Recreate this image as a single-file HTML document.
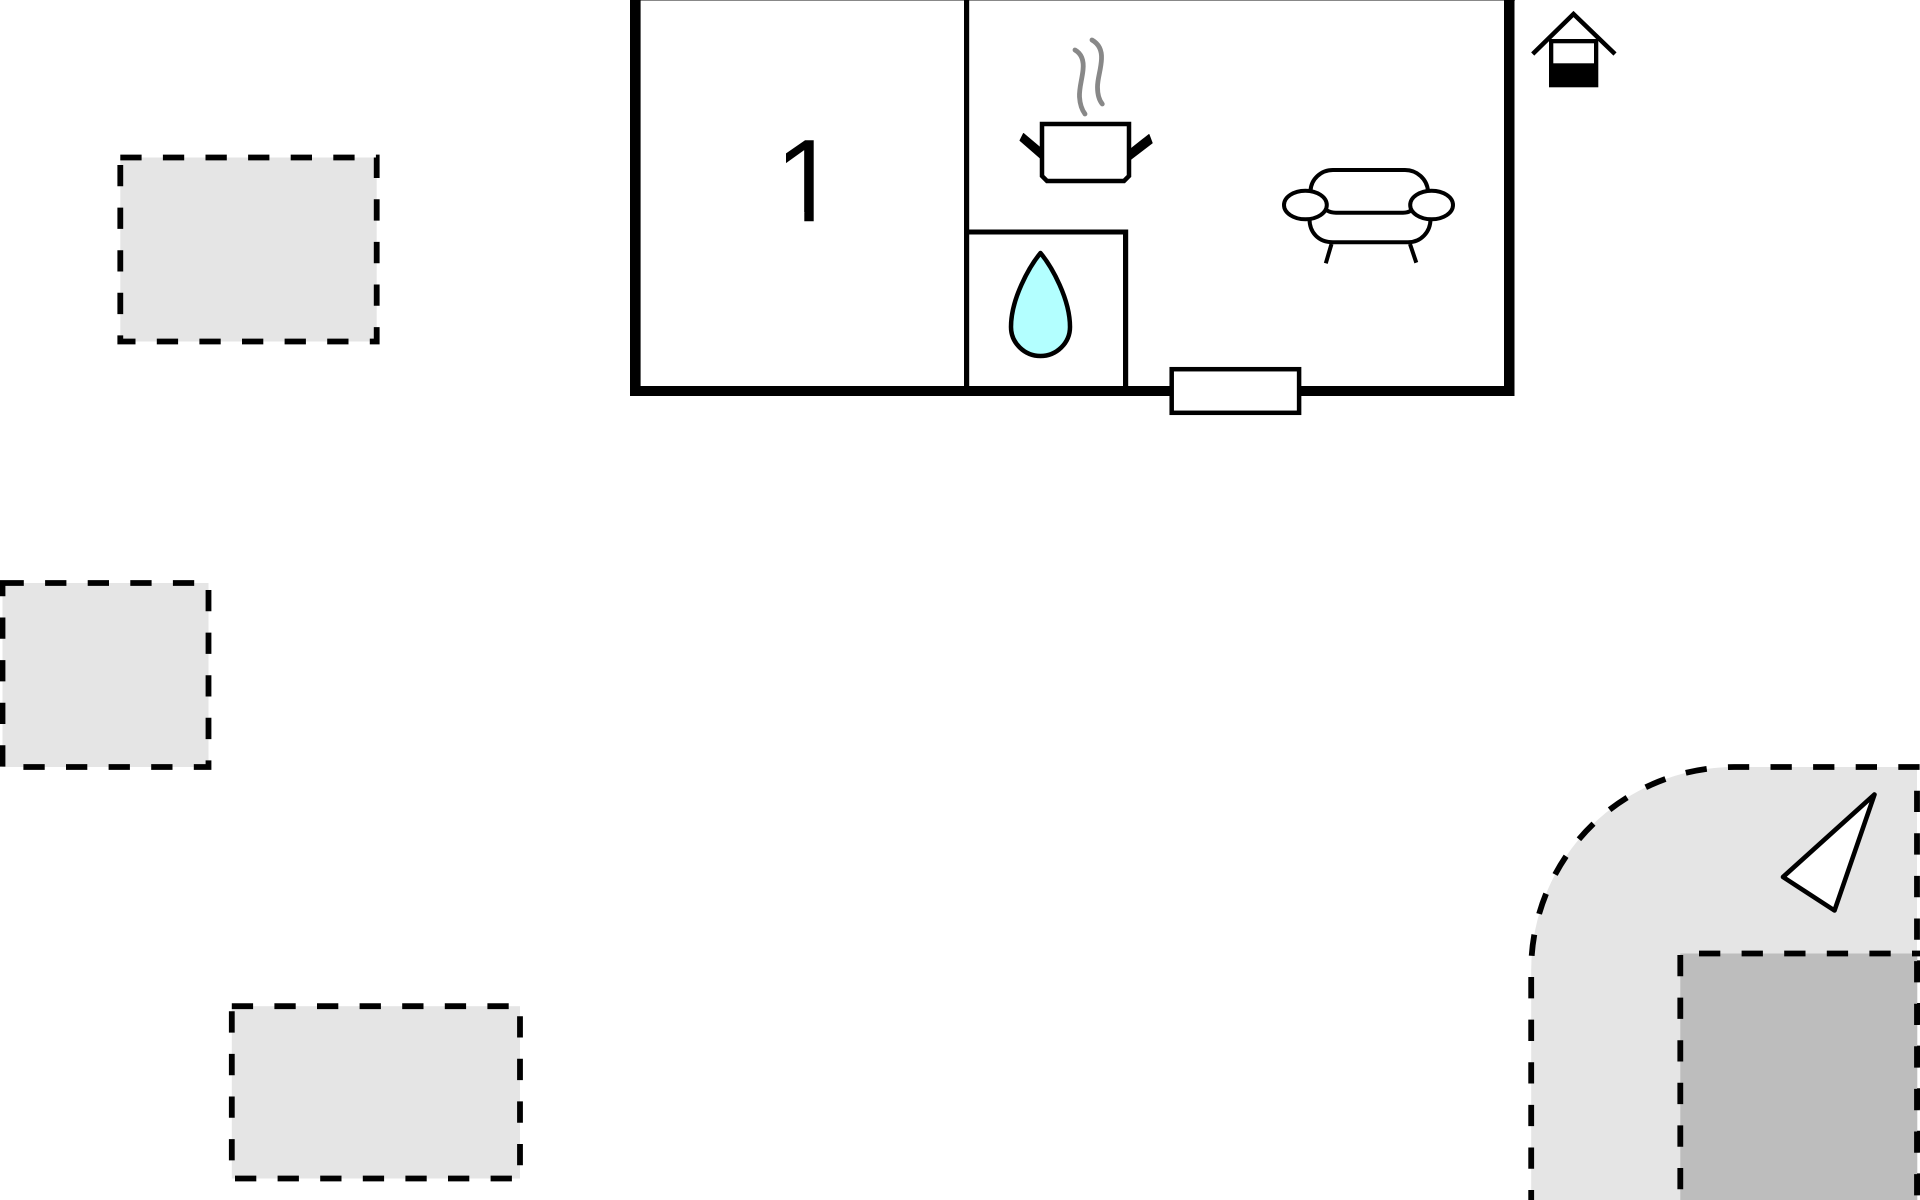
<!DOCTYPE html>
<html lang="en">
<head>
<meta charset="utf-8">
<title>Floor plan</title>
<style>
html,body{margin:0;padding:0;background:#fff;width:1920px;height:1200px;overflow:hidden}
svg{display:block}
.d{stroke:#000;stroke-width:5.8;stroke-dasharray:21.3 21.3;fill:none}
</style>
</head>
<body>
<svg xmlns="http://www.w3.org/2000/svg" width="1920" height="1200" viewBox="0 0 1920 1200">
<defs>
<clipPath id="one">
<rect x="786" y="130" width="27.7" height="82"/>
<rect x="804.3" y="130" width="9.4" height="91.3"/>
</clipPath>
</defs>
<rect width="1920" height="1200" fill="#fff"/>

<!-- dashed plots -->
<rect x="120.3" y="157.5" width="256.4" height="184" class="d" style="fill:#e5e5e5"/>
<rect x="2.5" y="583" width="206" height="184" class="d" style="fill:#e5e5e5"/>
<rect x="231.8" y="1006.2" width="288.2" height="172.3" class="d" style="fill:#e5e5e5"/>

<!-- big corner plot -->
<path d="M1917 767H1734.2A203 203 0 0 0 1531.2 970V1200H1917Z" fill="#e5e5e5"/>
<rect x="1680.3" y="953.5" width="237" height="247" fill="#bdbdbd"/>
<path class="d" d="M1919.6 767H1734.2A203 203 0 0 0 1531.2 970V1210"/>
<path class="d" d="M1917 790.7V1210"/>
<path class="d" d="M1699 953.5H1940"/>
<path class="d" d="M1680.3 955V1210"/>
<path class="d" d="M1920 960.4V1210"/>

<!-- north arrow -->
<polygon points="1874.5,794.5 1783,877 1834.5,910.5" fill="#fff" stroke="#000" stroke-width="4.6" stroke-linejoin="round"/>

<!-- house outline -->
<rect x="630" y="0" width="885" height="1" fill="#888"/>
<g fill="#000">
<rect x="630" y="0" width="10.6" height="396"/>
<rect x="1504" y="0" width="10.5" height="396"/>
<rect x="630" y="386" width="884.5" height="10"/>
<rect x="964" y="0" width="5.2" height="390"/>
<rect x="964" y="229.5" width="164" height="5"/>
<rect x="1123" y="229.5" width="5.2" height="160"/>
</g>

<!-- window -->
<rect x="1171.7" y="369.2" width="127.4" height="43.6" fill="#fff" stroke="#000" stroke-width="4.5"/>

<!-- room number -->
<text x="774.5" y="221.3" font-family="'Liberation Sans',sans-serif" font-size="118" fill="#000" clip-path="url(#one)">1</text>

<!-- steam -->
<g fill="none" stroke="#888" stroke-width="4.8" stroke-linecap="round">
<path d="M1075 50C1082 54 1084 61 1083 70C1082 80 1079 88 1079.5 97C1080 105 1082 110 1085 114"/>
<path d="M1092 40C1099 44 1102 50 1101.5 59C1101 70 1097.5 78 1097.5 87C1097.5 95 1099 100 1102.3 104"/>
</g>

<!-- pot -->
<g fill="#000" stroke="#000" stroke-width="1" stroke-linejoin="round">
<polygon points="1023.5,133.5 1020,140.5 1040.7,158.5 1040.7,148"/>
<polygon points="1149,134.5 1152.2,143 1130.6,159.5 1130.6,149"/>
</g>
<path d="M1042 124H1129V176L1124 181H1047L1042 176Z" fill="#fff" stroke="#000" stroke-width="4.5"/>

<!-- water drop -->
<path d="M1040.5 253C1029 267 1011 299 1011 327C1011 343 1024.5 356 1040.5 356C1056.5 356 1070 343 1070 327C1070 299 1052 267 1040.5 253Z" fill="#b3ffff" stroke="#000" stroke-width="4.5" stroke-linejoin="round"/>

<!-- sofa -->
<g fill="none" stroke="#000" stroke-width="4">
<path d="M1310.5 191C1311 179 1321 170 1333 170H1405C1417 170 1427 179 1428 191"/>
<path d="M1327 210.5Q1331 212.7 1336 212.7H1403Q1408 212.7 1411 210.5"/>
<path d="M1309.5 219C1309.5 232 1318 242.3 1333 242.3H1408C1421 242.3 1430.5 232 1430.5 219"/>
<path d="M1331.5 244L1325.8 263.3"/>
<path d="M1410 244L1416.3 262.7"/>
<ellipse cx="1305.4" cy="205" rx="21.4" ry="14.3" fill="#fff"/>
<ellipse cx="1431.6" cy="205" rx="21.4" ry="14.3" fill="#fff"/>
</g>

<!-- well / house icon -->
<path d="M1532.7 54L1573.5 14L1615 54" fill="none" stroke="#000" stroke-width="4.5" stroke-miterlimit="10"/>
<rect x="1549" y="39" width="49.3" height="48.3" fill="#000"/>
<rect x="1553.3" y="43.3" width="40.7" height="20" fill="#fff"/>
</svg>
</body>
</html>
